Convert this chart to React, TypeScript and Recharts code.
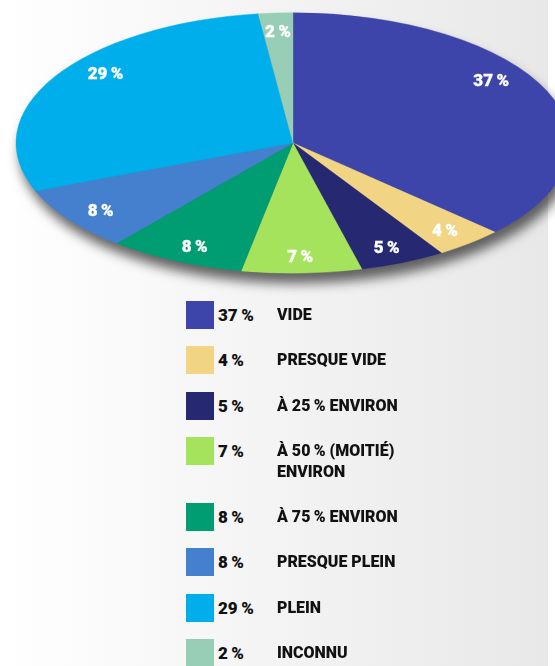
import React from "react";
import { Pie, PieChart, Cell } from "recharts";

// fill level categories, clockwise from 12 o'clock
const categories = [
  "VIDE",
  "PRESQUE VIDE",
  "À 25\u2009% ENVIRON",
  "À 50\u2009% (MOITIÉ)\nENVIRON",
  "À 75\u2009% ENVIRON",
  "PRESQUE PLEIN",
  "PLEIN",
  "INCONNU",
];
const shares = [37, 4, 5, 7, 8, 8, 29, 2];
const colors = [
  "#3d45aa",
  "#f2d584",
  "#262872",
  "#a6e35d",
  "#009c72",
  "#4580cf",
  "#00aeeb",
  "#98cdb6",
];

const data = categories.map((name, i) => ({ name, value: shares[i] }));

const FONT = "Roboto, 'Liberation Sans', sans-serif";
const Y_RATIO = 0.47; // flattening of the pie into an ellipse
const RAD = Math.PI / 180;
const SQUEEZE = 0.94; // narrow the label font to look like a condensed face

function ellipsePoint(cx: number, cy: number, r: number, angle: number) {
  return [cx + r * Math.cos(-angle * RAD), cy + r * Y_RATIO * Math.sin(-angle * RAD)];
}

function EllipseSector(props: any) {
  const { cx, cy, outerRadius, startAngle, endAngle, fill } = props;
  const [x1, y1] = ellipsePoint(cx, cy, outerRadius, startAngle);
  const [x2, y2] = ellipsePoint(cx, cy, outerRadius, endAngle);
  const large = Math.abs(startAngle - endAngle) > 180 ? 1 : 0;
  const sweep = startAngle > endAngle ? 1 : 0;
  const d = `M${cx},${cy} L${x1},${y1} A${outerRadius},${outerRadius * Y_RATIO} 0 ${large} ${sweep} ${x2},${y2} Z`;
  return <path d={d} fill={fill} stroke={fill} strokeWidth={0.4} />;
}

// angle (in circle space) of the visual bisector of a flattened slice
function visualMid(startAngle: number, endAngle: number) {
  const dir = (a: number) => Math.atan2(Y_RATIO * Math.sin(a * RAD), Math.cos(a * RAD));
  let a1 = dir(startAngle);
  let a2 = dir(endAngle);
  while (a2 > a1) a2 -= 2 * Math.PI;
  const m = (a1 + a2) / 2;
  let back = Math.atan2(Math.sin(m) / Y_RATIO, Math.cos(m)) / RAD;
  const mid = (startAngle + endAngle) / 2;
  while (back - mid > 180) back -= 360;
  while (mid - back > 180) back += 360;
  return back;
}

function SliceLabel(props: any) {
  const { cx, cy, outerRadius, midAngle, startAngle, endAngle, value } = props;
  const angle = midAngle + 0.35 * (visualMid(startAngle, endAngle) - midAngle);
  const [x, y] = ellipsePoint(cx, cy, outerRadius * 0.865, angle);
  return (
    <text
      x={x}
      y={y}
      fill="#ffffff"
      stroke="#ffffff"
      strokeWidth={0.3}
      textAnchor="middle"
      dominantBaseline="central"
      fontFamily={FONT}
      fontWeight={900}
      fontSize={17}
    >
      {`${value}\u2009%`}
    </text>
  );
}

const legendText: React.CSSProperties = {
  position: "absolute",
  top: 4,
  lineHeight: "21px",
  fontSize: 17,
  fontWeight: 900,
  color: "#111",
  whiteSpace: "pre",
  transformOrigin: "left center",
};

function LegendList() {
  return (
    <div style={{ position: "absolute", left: 186, top: 301, fontFamily: FONT }}>
      {data.map((d, i) => {
        const lines = d.name.split("\n").length;
        return (
          <div
            key={d.name}
            style={{
              position: "relative",
              height: 28 + (lines - 1) * 21,
              marginBottom: 17.3,
            }}
          >
            <div style={{ position: "absolute", left: 0, top: 0, width: 28, height: 28, background: colors[i] }} />
            <div style={{ ...legendText, left: 32 }}>{`${d.value}\u2009%`}</div>
            <div style={{ ...legendText, left: 91, top: 3, transform: `scaleX(${SQUEEZE})` }}>{d.name}</div>
          </div>
        );
      })}
    </div>
  );
}

export default function App() {
  return (
    <div
      style={{
        position: "absolute",
        left: 0,
        top: 0,
        width: 555,
        height: 666,
        overflow: "hidden",
        background: "linear-gradient(to right, #ffffff 0px, #e8e8e8 548px, #ffffff 548px, #ffffff 555px)",
      }}
    >
      <div
        style={{
          position: "absolute",
          left: 0,
          top: 0,
          filter: "drop-shadow(4px 10px 6px rgba(0,0,0,0.6))",
        }}
      >
        <PieChart width={590} height={300}>
          <Pie
            data={data}
            dataKey="value"
            nameKey="name"
            cx={288}
            cy={138}
            outerRadius={277}
            startAngle={90}
            endAngle={-270}
            shape={EllipseSector}
            label={SliceLabel}
            labelLine={false}
            isAnimationActive={false}
          >
            {data.map((d, i) => (
              <Cell key={d.name} fill={colors[i]} />
            ))}
          </Pie>
        </PieChart>
      </div>
      <LegendList />
    </div>
  );
}
